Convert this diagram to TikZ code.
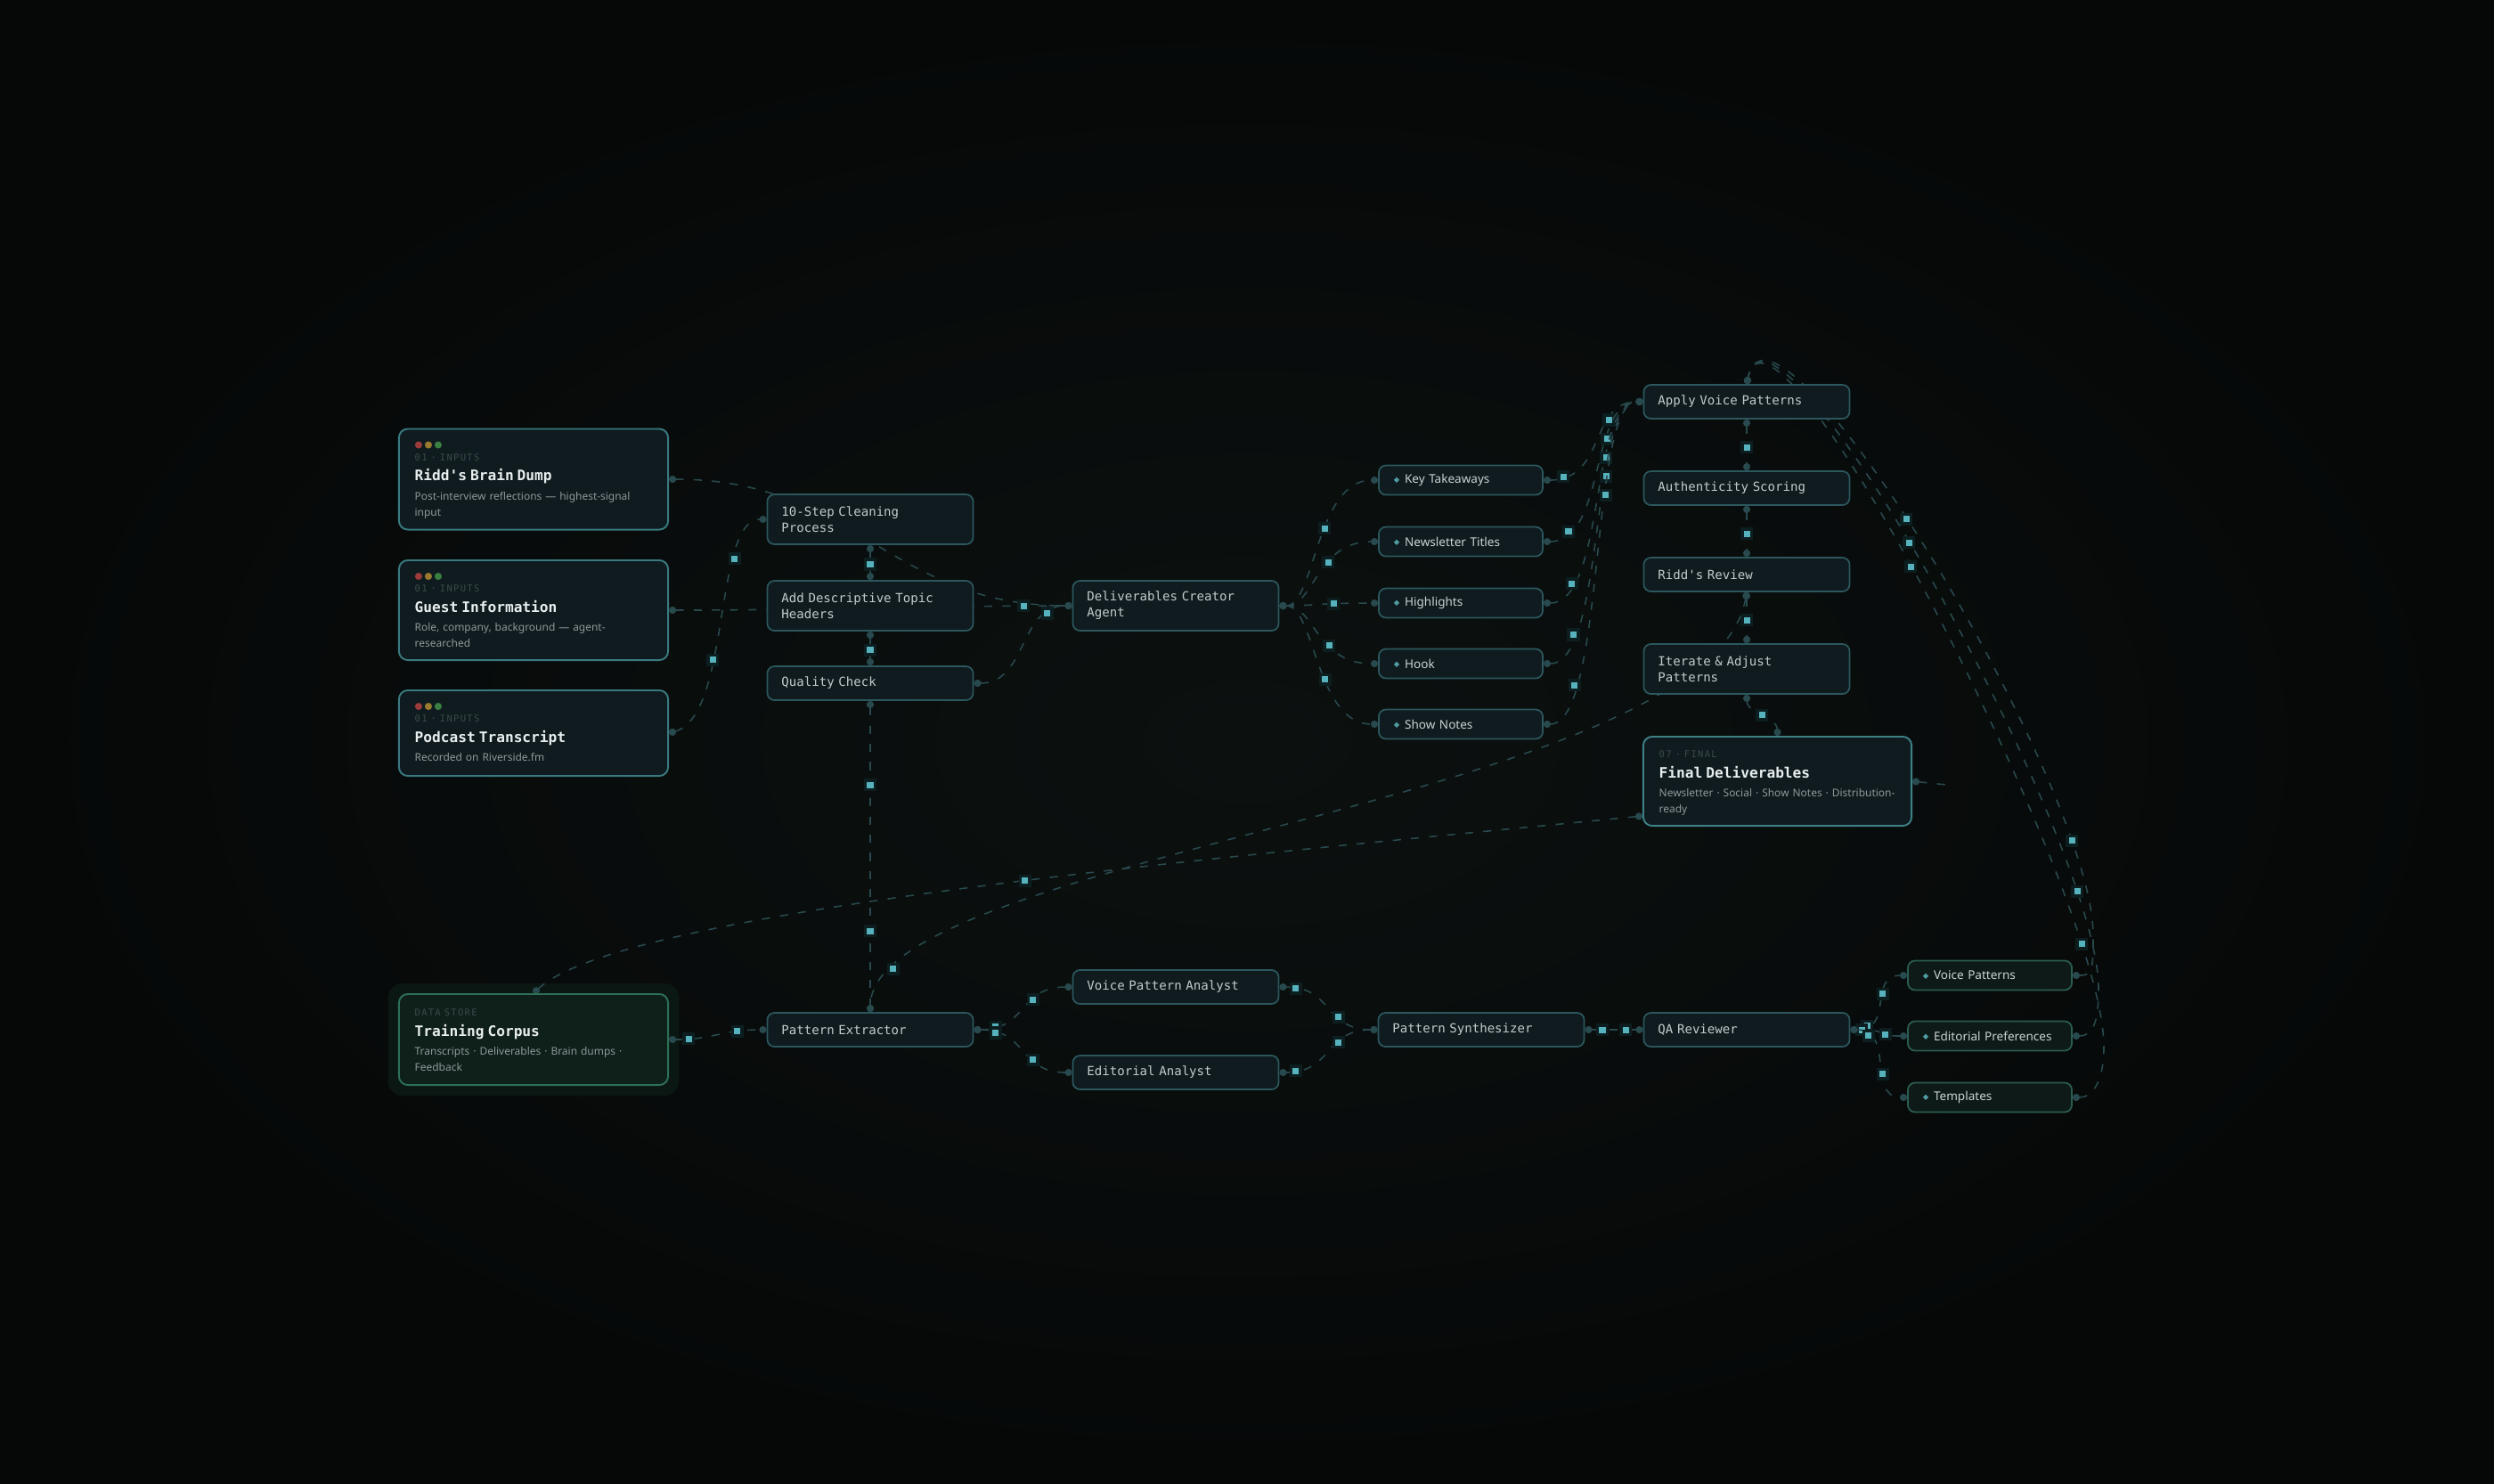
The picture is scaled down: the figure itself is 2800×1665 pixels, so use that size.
\documentclass[tikz,border=0pt]{standalone}
\usepackage{fontspec}
\setmainfont{Noto Sans}
\setmonofont{DejaVu Sans Mono}
\newfontfamily\symfont{DejaVu Sans}
\newfontfamily\tagfont[LetterSpace=12]{DejaVu Sans Mono}
\usetikzlibrary{positioning,calc,arrows.meta,decorations.markings}

\definecolor{bgIn}{HTML}{0C1110}
\definecolor{bgOut}{HTML}{060808}
\definecolor{boxFill}{HTML}{0F1B1F}
\definecolor{boxLine}{HTML}{2B575D}
\definecolor{cardLine}{HTML}{397A80}
\definecolor{finalLine}{HTML}{3D8088}
\definecolor{corpusFill}{HTML}{0F1F1A}
\definecolor{corpusLine}{HTML}{2E7057}
\definecolor{corpusGlow}{HTML}{0B1713}
\definecolor{greenFill}{HTML}{0E1A18}
\definecolor{greenLine}{HTML}{2B5C50}
\definecolor{edgeC}{HTML}{28494D}
\definecolor{pktC}{HTML}{56B2BC}
\definecolor{pktGlow}{HTML}{0D1E20}
\definecolor{titleC}{HTML}{E8EEEE}
\definecolor{stepC}{HTML}{C3CCCC}
\definecolor{itemC}{HTML}{CBD3D3}
\definecolor{subC}{HTML}{8D9999}
\definecolor{tagC}{HTML}{3B4A4B}
\definecolor{bulletC}{HTML}{4F9DA3}
\definecolor{lightR}{HTML}{9A3A3A}
\definecolor{lightY}{HTML}{98792E}
\definecolor{lightG}{HTML}{3A7F42}

\newcommand{\cardtag}[1]{{\tagfont\fontsize{3}{5.2}\selectfont\color{tagC}#1}}
\newcommand{\cardtitle}[1]{{\ttfamily\bfseries\fontsize{4.6}{5.2}\selectfont\color{titleC}#1}}
\newcommand{\cardsub}[1]{{\color{subC}#1}}
\newcommand{\itemmark}{{\symfont\fontsize{2.4}{3}\selectfont\color{bulletC}\raisebox{0.35pt}{◆}}\hspace{1.6pt}}

\pgfdeclarelayer{canvas}
\pgfdeclarelayer{wires}
\pgfsetlayers{canvas,wires,main}

\tikzset{
  box/.style={draw=boxLine, fill=boxFill, line width=0.5pt, rounded corners=2.3pt,
    inner xsep=0.16cm, inner ysep=0pt, align=left, text=stepC,
    font=\ttfamily\fontsize{4}{5.1}\selectfont},
  stepbox/.style={box, minimum width=2.31cm, text width=1.99cm, minimum height=0.38cm},
  tallbox/.style={stepbox, minimum height=0.56cm},
  card/.style={draw=cardLine, fill=boxFill, line width=0.55pt, rounded corners=2.8pt,
    minimum width=3.02cm},
  cardtext/.style={anchor=north west, inner sep=0pt, align=left, text width=2.8cm,
    font=\fontsize{3.4}{5.2}\selectfont},
  itembox/.style={box, font=\fontsize{3.85}{5}\selectfont, text=itemC,
    minimum width=1.84cm, text width=1.5cm, inner xsep=0.17cm, minimum height=0.33cm},
  keptbox/.style={itembox, draw=greenLine, fill=greenFill},
  flow/.style={draw=edgeC, line width=0.45pt, dash pattern=on 2.6pt off 3.2pt,
    {Circle[length=2.3pt]}-{Circle[length=2.3pt]}},
  pkt/.style={postaction={decorate, decoration={markings, mark=at position #1 with
    {\pgftransformresetnontranslations
     \fill[pktGlow] (-2pt,-2pt) rectangle (2pt,2pt);
     \fill[pktC] (-1pt,-1pt) rectangle (1pt,1pt);}}}}
}

\begin{document}
\begin{tikzpicture}[x=0.01cm, y=-0.01cm]
\useasboundingbox (0,0) rectangle (2800,1665);

% inputs
\node[card, minimum height=1.13cm] (brain) at (599,538) {};
\node[card, minimum height=1.12cm] (guest) at (599,685) {};
\node[card, minimum height=0.96cm] (transcript) at (599,823) {};
\foreach \c in {brain,guest,transcript}
  \foreach \col [count=\i] in {lightR,lightY,lightG}
    \fill[\col] ($(\c.north west)+(12+11*\i,19)$) circle (1.15pt);
\node[cardtext] (brain-text) at ($(brain.north west)+(18,28)$)
  {\cardtag{01 · INPUTS}\\[1.2pt]\cardtitle{Ridd's Brain Dump}\\[0.9pt]%
   \cardsub{Post-interview reflections — highest-signal\\input}};
\node[cardtext] (guest-text) at ($(guest.north west)+(18,28)$)
  {\cardtag{01 · INPUTS}\\[1.2pt]\cardtitle{Guest Information}\\[0.9pt]%
   \cardsub{Role, company, background — agent-\\researched}};
\node[cardtext] (transcript-text) at ($(transcript.north west)+(18,28)$)
  {\cardtag{01 · INPUTS}\\[1.2pt]\cardtitle{Podcast Transcript}\\[0.9pt]%
   \cardsub{Recorded on Riverside.fm}};

% cleaning chain
\node[tallbox] (clean) at (977,583) {10-Step Cleaning\\Process};
\node[tallbox] (headers) at (977,680) {Add Descriptive Topic\\Headers};
\node[stepbox] (qcheck) at (977,767) {Quality Check};
\node[tallbox] (creator) at (1320,680) {Deliverables Creator\\Agent};

% deliverables
\foreach \n/\t/\y in {takeaways/Key Takeaways/539, titles/Newsletter Titles/608,
    highlights/Highlights/677, hook/Hook/745, shownotes/Show Notes/813}
  \node[itembox] (\n) at (1640,\y) {\itemmark\t};

% review chain
\node[stepbox] (applyvoice) at (1961,451) {Apply Voice Patterns};
\node[stepbox] (authscore) at (1961,548) {Authenticity Scoring};
\node[stepbox] (review) at (1961,645) {Ridd's Review};
\node[tallbox] (iterate) at (1961,751) {Iterate \& Adjust\\Patterns};
\node[card, draw=finalLine, minimum width=3.01cm, minimum height=1.0cm] (final) at (1995.5,877) {};
\node[cardtext] (final-text) at ($(final.north west)+(18,16)$)
  {\cardtag{07 · FINAL}\\[1.2pt]\cardtitle{Final Deliverables}\\[0.9pt]%
   \cardsub{Newsletter · Social · Show Notes · Distribution-\\ready}};
\coordinate (finalstub) at (2185,881);

% training loop
\node[card, draw=corpusLine, fill=corpusFill, minimum height=1.02cm] (corpus) at (599,1167) {};
\node[cardtext] (corpus-text) at ($(corpus.north west)+(18,17)$)
  {\cardtag{DATA STORE}\\[1.2pt]\cardtitle{Training Corpus}\\[0.9pt]%
   \cardsub{Transcripts · Deliverables · Brain dumps ·\\Feedback}};
\node[stepbox] (extractor) at (977,1156) {Pattern Extractor};
\node[stepbox] (voiceanalyst) at (1320,1108) {Voice Pattern Analyst};
\node[stepbox] (editanalyst) at (1320,1204) {Editorial Analyst};
\node[stepbox] (synth) at (1663,1156) {Pattern Synthesizer};
\node[stepbox] (qa) at (1961,1156) {QA Reviewer};
\foreach \n/\t/\y in {voicepat/Voice Patterns/1095, editpref/Editorial Preferences/1163,
    templates/Templates/1232}
  \node[keptbox] (\n) at (2234,\y) {\itemmark\t};

\begin{pgfonlayer}{canvas}
  \shade[inner color=bgIn, outer color=bgOut] (0,0) rectangle (2800,1665);
  \fill[corpusGlow, rounded corners=4.5pt] ($(corpus.north west)+(-11,-11)$) rectangle ($(corpus.south east)+(11,11)$);
\end{pgfonlayer}

\begin{pgfonlayer}{wires}
  % inputs into the cleaning chain
  \draw[flow] (brain.east) .. controls +(210,0) and +(-205,0) .. (creator.west);
  \draw[flow, pkt=0.88] (guest.east) .. controls +(150,0) and +(-150,0) .. (creator.west);
  \draw[flow, pkt=0.36, pkt=0.78] (transcript.east) .. controls +(70,-20) and +(-60,0) .. (clean.west);
  \draw[flow, pkt=0.55] (clean.south) -- (headers.north);
  \draw[flow, pkt=0.55] (headers.south) -- (qcheck.north);
  \draw[flow, pkt=0.8] (qcheck.east) .. controls +(60,0) and +(-60,0) .. (creator.west);
  \draw[flow, pkt=0.27, pkt=0.74] (qcheck.south) -- (extractor.north);
  % fan out and back in
  \foreach \d in {takeaways,titles,highlights,hook,shownotes} {
    \draw[flow, pkt=0.55] (creator.east) .. controls +(40,0) and +(-70,0) .. (\d.west);
    \draw[flow, pkt=0.15, pkt=0.7] (\d.east) .. controls +(70,0) and +(-60,0) .. (applyvoice.west);
  }
  % review chain
  \draw[flow, pkt=0.55] (applyvoice.south) -- (authscore.north);
  \draw[flow, pkt=0.55] (authscore.south) -- (review.north);
  \draw[flow, pkt=0.55] (review.south) -- (iterate.north);
  \draw[flow, pkt=0.5] (iterate.south) .. controls +(0,20) and +(0,-20) .. (final.north);
  \draw[draw=edgeC, line width=0.45pt, dash pattern=on 2.6pt off 3.2pt, {Circle[length=2.3pt]}-] (final.east) -- (finalstub);
  % feedback
  \draw[flow, pkt=0.95] (review.south) .. controls (1920,900) and (979,960) .. (extractor.north);
  \draw[flow, pkt=0.55] ($(final.west)+(0,39)$) .. controls (1400,960) and (700,1020) .. (corpus.north);
  % learned patterns back to voice
  \foreach \v/\jx/\jy in {voicepat/2350/1050, editpref/2356/1110, templates/2362/1175}
    \draw[flow, pkt=0.2, pkt=0.68] (\v.east) .. controls +(22,0) and +(0,40) .. (\jx,\jy)
      .. controls +(0,-170) and +(30,-140) .. (applyvoice.north);
  % pattern training
  \draw[flow, pkt=0.2, pkt=0.7] (corpus.east) .. controls +(50,0) and +(-50,0) .. (extractor.west);
  \foreach \a in {voiceanalyst,editanalyst} {
    \draw[flow, pkt=0.2, pkt=0.62] (extractor.east) .. controls +(60,0) and +(-60,0) .. (\a.west);
    \draw[flow, pkt=0.15, pkt=0.62] (\a.east) .. controls +(60,0) and +(-60,0) .. (synth.west);
  }
  \draw[flow, pkt=0.3, pkt=0.7] (synth.east) -- (qa.west);
  \foreach \v in {voicepat,editpref,templates}
    \draw[flow, pkt=0.2, pkt=0.62] (qa.east) .. controls +(50,0) and +(-45,0) .. (\v.west);
\end{pgfonlayer}
\end{tikzpicture}
\end{document}
